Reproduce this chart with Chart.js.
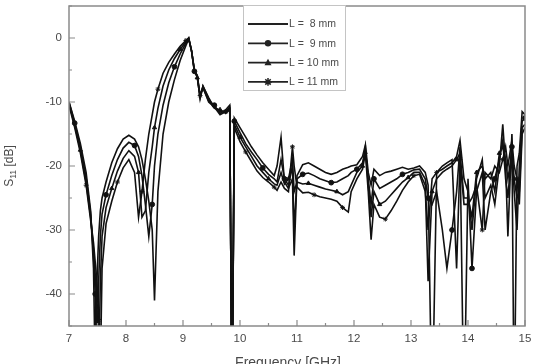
<!DOCTYPE html>
<html>
<head>
<meta charset="utf-8">
<script src="https://cdn.jsdelivr.net/npm/chart.js@4/dist/chart.umd.min.js"></script>
<style>
  html, body { margin: 0; padding: 0; background: #fff; }
  #wrap { width: 542px; height: 364px; overflow: hidden; }
</style>
</head>
<body>
<div id="wrap"><canvas id="myChart" width="542" height="364"></canvas></div>
<script>
// frequency grid [GHz] shared by all four curves
const freqs = [
  7.0, 7.1, 7.2, 7.3, 7.38, 7.43, 7.46, 7.49, 7.52, 7.55, 7.58, 7.65, 7.75, 7.85, 7.95,
  8.05, 8.15, 8.22, 8.28, 8.34, 8.4, 8.46, 8.5, 8.56, 8.65, 8.75, 8.85, 8.95, 9.05, 9.1,
  9.15, 9.2, 9.25, 9.3, 9.35, 9.45, 9.55, 9.65, 9.75, 9.82, 9.86, 9.9,
  10.0, 10.1, 10.2, 10.3, 10.4, 10.5, 10.6, 10.65, 10.72, 10.78, 10.85, 10.92, 10.95, 11.0,
  11.1, 11.2, 11.3, 11.4, 11.5, 11.6, 11.7, 11.8, 11.9, 11.95, 12.05, 12.15, 12.2, 12.25,
  12.3, 12.35, 12.45, 12.55, 12.65, 12.75, 12.85, 12.95, 13.05, 13.15, 13.25, 13.3, 13.37,
  13.45, 13.55, 13.63, 13.72, 13.8, 13.86, 13.93, 14.0, 14.07, 14.15, 14.25, 14.3, 14.4,
  14.47, 14.55, 14.61, 14.66, 14.7, 14.77, 14.81, 14.86, 14.9, 14.95, 15.0
]

// S11 [dB]
const sL8 = [
  -10, -13, -16.5, -21, -27, -36, -52, -38, -31, -27, -25, -22.5, -19.5, -17.3, -15.8,
  -15.2, -15.8, -17, -19, -22, -25.5, -30, -41, -24, -15, -10, -6.5, -3.5, -1.2, -0.2,
  -2, -5, -6, -9.5, -7.5, -9.5, -10.8, -11.5, -11.5, -11, -60, -12.5,
  -14, -15.5, -17, -18.3, -19.5, -20.5, -21.5, -20, -15.5, -22.5, -23.5, -22, -34, -21.5,
  -19.8, -19.5, -20, -20.5, -21, -21.3, -21, -20.5, -20.2, -20, -19.8, -18.5, -16.7, -21,
  -23, -20.5, -21.5, -21, -20.8, -20.5, -20.2, -20.5, -20.3, -20, -21, -23, -60,
  -21, -20.5, -20, -19.5, -18.5, -16, -22, -24, -30, -22, -19, -25, -23,
  -26, -20, -13.5, -20, -31, -15, -60, -20, -18, -11.5, -12
]
const sL9 = [
  -10, -13.3, -17, -21.8, -27.5, -34, -40, -52, -38, -31, -27.5, -24.5, -21.5, -19, -17.2,
  -16.3, -16.8, -18.5, -21.5, -26, -31, -26, -20, -15, -10.5, -7, -4.5, -2.5, -0.8, -0.1,
  -2, -5.2, -5.8, -9, -7.8, -9.8, -10.5, -11.8, -11.2, -10.5, -60, -13,
  -14.8, -16.5, -17.8, -19, -20.3, -21.3, -22, -22.5, -19, -22, -23, -20, -30, -22,
  -21.3, -21.1, -21.5, -22, -22.3, -22.6, -22.5, -22, -21.5, -21, -20.5, -19.5, -17.5, -22,
  -26, -22, -23.5, -23, -22.5, -22, -21.3, -21, -20.6, -20.5, -22, -25, -26,
  -24, -30, -36, -30, -24, -17, -60, -22, -36, -24, -21, -30, -24,
  -22, -19, -16, -22, -25, -17, -24, -30, -20, -13, -12.5
]
const sL10 = [
  -10.3, -13.6, -17.5, -22.5, -28, -33, -37, -42, -52, -38, -31, -26.5, -23.5, -20.8, -18.8,
  -17.6, -18.5, -21, -28, -27, -21, -17, -14, -11, -7.5, -5, -3.2, -1.8, -0.6, 0,
  -2, -5, -6.2, -9.3, -7.5, -9.3, -11, -11.2, -11.8, -11.2, -60, -13.5,
  -15.5, -17, -18.5, -20, -21, -22, -22.8, -23, -21, -22.8, -22, -19, -24, -22.5,
  -22.8, -22.7, -23, -23.3, -23.6, -23.8, -24, -24.5, -24, -23, -21, -20, -17, -23,
  -28, -24, -26, -25.5, -24.5, -23.5, -22.5, -21.8, -21, -21, -23, -38, -24,
  -22, -21, -20.5, -20, -19, -18, -25, -25, -28, -21, -20, -22, -21,
  -24, -18, -17, -19, -22, -18, -22, -25, -24, -14, -13.5
]
const sL11 = [
  -10.5, -14, -18, -23, -28.5, -32, -35, -38, -44, -52, -36, -29, -25.5, -22.5, -20.3,
  -19, -21, -28, -24, -19, -15, -12, -10, -8, -5.5, -3.8, -2.5, -1.3, -0.4, 0,
  -2, -5.3, -6, -9, -7.7, -10, -10.8, -12, -11.5, -10.8, -60, -14,
  -16.2, -17.8, -19.3, -20.8, -21.8, -22.5, -23.3, -23.8, -22.5, -23.5, -24, -17, -20, -23.3,
  -24.2, -24.1, -24.5, -24.8, -25, -25.2, -25.5, -26.5, -27.2, -24, -22, -20.5, -18, -24,
  -31.5, -26, -28, -28.3, -27, -25.5, -23.8, -22.5, -21.5, -21.3, -24, -30, -22,
  -21, -20, -19.5, -19, -36, -19, -26, -26, -25, -23, -30, -21, -22,
  -20, -21, -19, -17, -20, -16, -20, -22, -26, -15, -14
]

const labels = ['L =  8 mm', 'L =  9 mm', 'L = 10 mm', 'L = 11 mm']
const series = [sL8, sL9, sL10, sL11]
const markers = [false, 'circle', 'triangle', 'star']

const xTicks = [7, 8, 9, 10, 11, 12, 13, 14, 15]
const yTicks = [-40, -30, -20, -10, 0]

const FONT = "'Liberation Sans', Arial, sans-serif"
const TXT = '#4a4a4a'
const FRAME = '#8a8a8a'

function drawMarker(ctx, style, x, y, r) {
  ctx.beginPath()
  if (style === 'circle') {
    ctx.arc(x, y, r, 0, Math.PI * 2)
    ctx.fill()
  } else if (style === 'triangle') {
    ctx.moveTo(x, y - r * 1.2)
    ctx.lineTo(x + r * 1.1, y + r * 0.8)
    ctx.lineTo(x - r * 1.1, y + r * 0.8)
    ctx.closePath()
    ctx.fill()
  } else if (style === 'star') {
    for (let k = 0; k < 4; k++) {
      const a = k * Math.PI / 4
      ctx.moveTo(x - Math.cos(a) * r * 1.2, y - Math.sin(a) * r * 1.2)
      ctx.lineTo(x + Math.cos(a) * r * 1.2, y + Math.sin(a) * r * 1.2)
    }
    ctx.lineWidth = 1.5
    ctx.stroke()
  }
}

const datasets = series.map((vals, i) => ({
  label: labels[i],
  data: freqs.map((f, j) => ({ x: f, y: vals[j] })),
  borderColor: '#111',
  backgroundColor: '#111',
  borderWidth: 1.6,
  tension: 0,
  pointStyle: markers[i] || 'circle',
  pointRadius: (c) => (markers[i] && c.dataIndex % 5 === i ? 2.4 : 0),
  pointBorderWidth: 1,
  pointBorderColor: '#111',
  pointBackgroundColor: '#111',
}))

const framePlugin = {
  id: 'frame',
  afterDatasetsDraw(chart) {
    const { ctx, chartArea: a, scales } = chart
    ctx.save()
    // frame box
    ctx.strokeStyle = FRAME
    ctx.lineWidth = 1.5
    ctx.strokeRect(a.left, a.top, a.right - a.left, a.bottom - a.top)
    // inward ticks, major + minor
    ctx.lineWidth = 1.2
    ctx.beginPath()
    for (let v = 7; v <= 15; v += 0.5) {
      const px = scales.x.getPixelForValue(v)
      const len = Number.isInteger(v) ? 6 : 3
      ctx.moveTo(px, a.bottom)
      ctx.lineTo(px, a.bottom - len)
    }
    for (let v = -45; v <= 5; v += 5) {
      const py = scales.y.getPixelForValue(v)
      const len = v % 10 === 0 ? 6 : 3
      ctx.moveTo(a.left, py)
      ctx.lineTo(a.left + len, py)
    }
    ctx.stroke()

    // legend box
    const bx = 243.5, by = 5.5, bw = 102, bh = 85
    ctx.fillStyle = '#fff'
    ctx.fillRect(bx, by, bw, bh)
    ctx.strokeStyle = '#c4c4c4'
    ctx.lineWidth = 1
    ctx.strokeRect(bx, by, bw, bh)
    chart.data.datasets.forEach((ds, i) => {
      const y = 24 + i * 19.3
      ctx.strokeStyle = '#222'
      ctx.fillStyle = '#222'
      ctx.lineWidth = 1.8
      ctx.beginPath()
      ctx.moveTo(248, y)
      ctx.lineTo(288, y)
      ctx.stroke()
      if (markers[i]) drawMarker(ctx, markers[i], 268, y, 3.2)
      ctx.fillStyle = TXT
      ctx.font = '10.5px ' + FONT
      ctx.textBaseline = 'middle'
      ctx.textAlign = 'left'
      ctx.fillText(ds.label, 289, y + 0.5)
    })

    // axis titles
    ctx.fillStyle = TXT
    ctx.font = '14px ' + FONT
    ctx.textAlign = 'center'
    ctx.textBaseline = 'top'
    ctx.fillText('Frequency [GHz]', 288, 356)

    ctx.translate(13, 166)
    ctx.rotate(-Math.PI / 2)
    ctx.textBaseline = 'alphabetic'
    ctx.textAlign = 'left'
    ctx.font = '12px ' + FONT
    const w1 = ctx.measureText('S').width
    ctx.font = '8.5px ' + FONT
    const w2 = ctx.measureText('11').width
    ctx.font = '12px ' + FONT
    const w3 = ctx.measureText(' [dB]').width
    let x0 = -(w1 + w2 + w3) / 2
    ctx.fillText('S', x0, 0)
    ctx.font = '8.5px ' + FONT
    ctx.fillText('11', x0 + w1, 3)
    ctx.font = '12px ' + FONT
    ctx.fillText(' [dB]', x0 + w1 + w2, 0)
    ctx.restore()
  },
}

const config = {
  type: 'line',
  data: { datasets },
  options: {
    responsive: false,
    animation: false,
    layout: { padding: { top: 6, right: 17, left: 0, bottom: 0 } },
    plugins: { legend: { display: false }, tooltip: { enabled: false } },
    scales: {
      x: {
        type: 'linear',
        min: 7,
        max: 15,
        afterBuildTicks: (s) => { s.ticks = xTicks.map((v) => ({ value: v })) },
        afterFit: (s) => { s.height = 38; s.paddingLeft = 0; s.paddingRight = 0 },
        grid: { display: false, drawTicks: false },
        border: { display: false },
        ticks: { color: TXT, font: { family: FONT, size: 11.5 }, padding: 6, maxRotation: 0 },
      },
      y: {
        type: 'linear',
        min: -45,
        max: 5,
        afterBuildTicks: (s) => { s.ticks = yTicks.map((v) => ({ value: v })) },
        afterFit: (s) => { s.width = 69; s.paddingTop = 0; s.paddingBottom = 0 },
        grid: { display: false, drawTicks: false },
        border: { display: false },
        ticks: { color: TXT, font: { family: FONT, size: 11.5 }, padding: 7 },
      },
    },
  },
  plugins: [framePlugin],
}

const myChart = new Chart(document.getElementById('myChart'), config)
</script>
</body>
</html>
